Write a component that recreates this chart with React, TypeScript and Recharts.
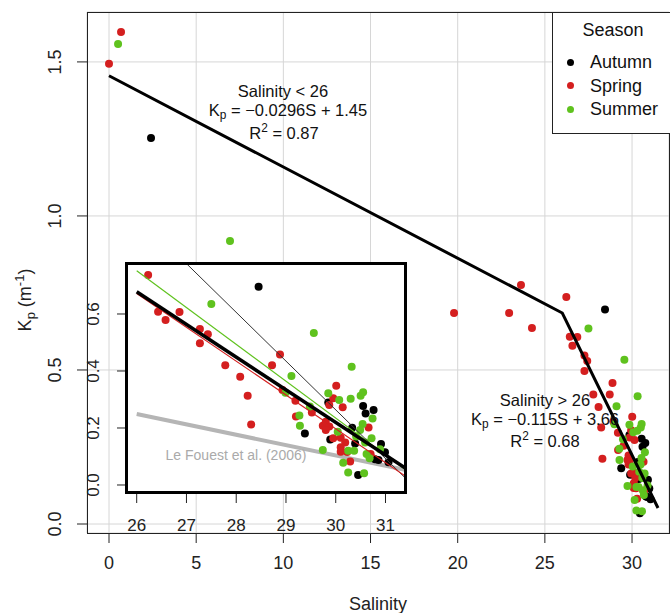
import React from 'react';
import { ScatterChart, Scatter, XAxis, YAxis, CartesianGrid } from 'recharts';

const FONT = '"Liberation Sans", Arial, Helvetica, sans-serif';

// ---- data ----
const seasons = ['Autumn', 'Spring', 'Summer'];
const seasonColors = ['#000000', '#d41f1f', '#5fc21e'];

const autumnSalinity = [2.41, 28.45, 29.85, 29.38, 29.89, 30.33, 30.39, 30.55, 30.60, 30.76, 30.91, 30.99, 30.79, 30.86, 31.06, 30.45];
const autumnKp = [1.253, 0.696, 0.289, 0.181, 0.160, 0.201, 0.146, 0.277, 0.251, 0.263, 0.144, 0.115, 0.090, 0.088, 0.080, 0.035];

const springSalinity = [0, 0.69, 19.79, 22.95, 23.63, 24.26, 26.23, 26.43, 26.58, 26.86, 27.27, 27.43, 27.27, 27.78, 28.08, 28.23, 28.30, 28.88, 28.72, 28.93, 29.19, 29.20, 29.52, 29.74, 29.80, 29.87, 29.80, 29.95, 30.01, 29.87, 30.14, 29.95, 30.10, 30.19, 30.10, 30.23, 30.10, 30.29, 30.66, 30.70];
const springKp = [1.494, 1.597, 0.685, 0.685, 0.776, 0.636, 0.737, 0.608, 0.579, 0.607, 0.547, 0.529, 0.497, 0.420, 0.380, 0.313, 0.212, 0.458, 0.420, 0.333, 0.296, 0.240, 0.254, 0.208, 0.222, 0.205, 0.193, 0.304, 0.348, 0.281, 0.273, 0.164, 0.166, 0.149, 0.132, 0.116, 0.117, 0.082, 0.202, 0.109];

const summerSalinity = [0.52, 6.94, 27.50, 29.56, 29.11, 30.32, 28.99, 29.27, 29.28, 29.85, 30.07, 30.30, 30.50, 30.55, 30.74, 30.54, 30.04, 30.49, 30.41, 30.72, 30.59, 29.74, 30.25, 30.37, 30.15, 30.25, 30.57, 30.62, 30.68, 29.48, 30.89];
const summerKp = [1.558, 0.919, 0.635, 0.533, 0.382, 0.415, 0.324, 0.244, 0.208, 0.322, 0.298, 0.303, 0.313, 0.325, 0.233, 0.214, 0.187, 0.193, 0.170, 0.164, 0.149, 0.123, 0.120, 0.120, 0.078, 0.044, 0.041, 0.109, 0.094, 0.275, 0.125];

// piecewise regression (main panel)
const mainFitSalinity = [0, 26, 31.49];
const mainFitKp = [1.455, 0.685, 0.052];

// inset regression lines
const fitAllSalinity = [26, 31.39];
const fitAllKp = [0.678, 0.06];
const fitSpringSalinity = [26, 31.39];
const fitSpringKp = [0.672, 0.032];
const fitSummerSalinity = [26, 31.39];
const fitSummerKp = [0.752, 0.055];
const fitAutumnSalinity = [27.01, 31.39];
const fitAutumnKp = [0.775, 0.026];
const leFouestSalinity = [26, 31.39];
const leFouestKp = [0.249, 0.053];

const mainXTicks = [0, 5, 10, 15, 20, 25, 30];
const mainYTicks = [0, 0.5, 1.0, 1.5];
const insetXTicks = [26, 27, 28, 29, 30, 31];
const insetYTicks = [0, 0.2, 0.4, 0.6];

const MAIN_X_DOMAIN: [number, number] = [-1.262, 32.12];
const MAIN_Y_DOMAIN: [number, number] = [-0.0292, 1.662];
const INSET_X_DOMAIN: [number, number] = [25.805, 31.392];
const INSET_Y_DOMAIN: [number, number] = [-0.0246, 0.7754];

// ---- helpers ----
const toPoints = (xs: number[], ys: number[]) => xs.map((x, i) => ({ x, y: ys[i] }));

const seasonData = [
  toPoints(autumnSalinity, autumnKp),
  toPoints(springSalinity, springKp),
  toPoints(summerSalinity, summerKp),
];

const insetSeasonData = seasonData.map((pts) =>
  pts.filter(
    (p) => p.x >= INSET_X_DOMAIN[0] && p.x <= INSET_X_DOMAIN[1] && p.y >= INSET_Y_DOMAIN[0] && p.y <= INSET_Y_DOMAIN[1]
  )
);

const makeDot = (color: string, r: number) => (props: any) =>
  props.cx == null ? <g /> : <circle cx={props.cx} cy={props.cy} r={r} fill={color} stroke="none" />;
const NoShape = () => <g />;

const mainXTick = (p: any) => (
  <text x={p.x} y={p.y + 20} textAnchor="middle" dominantBaseline="central" fontSize={18} fill="#222" fontFamily={FONT}>
    {p.payload.value}
  </text>
);
const mainYTick = (p: any) => {
  const cx = p.x - 22;
  return (
    <text x={cx} y={p.y} transform={`rotate(-90, ${cx}, ${p.y})`} textAnchor="middle" dominantBaseline="central" fontSize={18} fill="#222" fontFamily={FONT}>
      {Number(p.payload.value).toFixed(1)}
    </text>
  );
};
const insetXTick = (p: any) => (
  <text x={p.x} y={p.y + 22} textAnchor="middle" dominantBaseline="central" fontSize={17} fill="#222" fontFamily={FONT}>
    {p.payload.value}
  </text>
);
const insetYTick = (p: any) => {
  const cx = p.x - 23;
  return (
    <text x={cx} y={p.y} transform={`rotate(-90, ${cx}, ${p.y})`} textAnchor="middle" dominantBaseline="central" fontSize={17} fill="#222" fontFamily={FONT}>
      {Number(p.payload.value).toFixed(1)}
    </text>
  );
};

const subStyle: React.CSSProperties = { fontSize: '0.72em', verticalAlign: '-0.3em', lineHeight: 0 };
const supStyle: React.CSSProperties = { fontSize: '0.72em', verticalAlign: '0.55em', lineHeight: 0 };

const Label = ({ x, y, size, color = '#111', children }: any) => (
  <div
    style={{
      position: 'absolute',
      left: x,
      top: y,
      transform: 'translate(-50%, -50%)',
      fontSize: size,
      lineHeight: 1,
      whiteSpace: 'nowrap',
      color,
      fontFamily: FONT,
    }}
  >
    {children}
  </div>
);

export default function App() {
  return (
    <div style={{ position: 'absolute', left: 0, top: 0, width: 670, height: 613, background: '#fff', overflow: 'hidden', fontFamily: FONT }}>
      {/* main chart */}
      <div style={{ position: 'absolute', left: 0, top: 0 }}>
        <ScatterChart width={670} height={613} margin={{ top: 12, right: 1, bottom: 0, left: 0 }}>
          <CartesianGrid stroke="#d6d6d6" strokeWidth={1} />
          <XAxis
            type="number"
            dataKey="x"
            domain={MAIN_X_DOMAIN}
            allowDataOverflow
            ticks={mainXTicks}
            interval={0}
            height={80}
            axisLine={false}
            tickSize={10}
            tickMargin={0}
            tickLine={{ stroke: '#222' }}
            tick={mainXTick}
          />
          <YAxis
            type="number"
            dataKey="y"
            domain={MAIN_Y_DOMAIN}
            allowDataOverflow
            ticks={mainYTicks}
            interval={0}
            width={87}
            axisLine={false}
            tickSize={10}
            tickMargin={0}
            tickLine={{ stroke: '#222' }}
            tick={mainYTick}
          />
          {seasons.map((s, i) => (
            <Scatter key={s} name={s} data={seasonData[i]} shape={makeDot(seasonColors[i], 4)} isAnimationActive={false} />
          ))}
          <Scatter
            data={toPoints(mainFitSalinity, mainFitKp)}
            line={{ stroke: '#000', strokeWidth: 3 }}
            shape={NoShape}
            isAnimationActive={false}
          />
        </ScatterChart>
      </div>

      {/* main plot box */}
      <div style={{ position: 'absolute', left: 87, top: 12, width: 583, height: 522, border: '1px solid #222', boxSizing: 'border-box', pointerEvents: 'none' }} />

      {/* inset white background */}
      <div style={{ position: 'absolute', left: 125, top: 262, width: 282, height: 231, background: '#fff' }} />

      {/* inset chart */}
      <div style={{ position: 'absolute', left: 0, top: 0 }}>
        <ScatterChart width={670} height={613} margin={{ top: 264, right: 265, bottom: 0, left: 0 }}>
          <XAxis
            type="number"
            dataKey="x"
            domain={INSET_X_DOMAIN}
            allowDataOverflow
            ticks={insetXTicks}
            interval={0}
            height={121}
            axisLine={false}
            tickSize={11}
            tickMargin={0}
            tickLine={{ stroke: '#222' }}
            tick={insetXTick}
          />
          <YAxis
            type="number"
            dataKey="y"
            domain={INSET_Y_DOMAIN}
            allowDataOverflow
            ticks={insetYTicks}
            interval={0}
            width={127}
            axisLine={false}
            tickSize={10}
            tickMargin={0}
            tickLine={{ stroke: '#222' }}
            tick={insetYTick}
          />
          <Scatter
            data={toPoints(leFouestSalinity, leFouestKp)}
            line={{ stroke: '#b5b5b5', strokeWidth: 4 }}
            shape={NoShape}
            isAnimationActive={false}
          />
          {seasons.map((s, i) => (
            <Scatter key={s} name={s} data={insetSeasonData[i]} shape={makeDot(seasonColors[i], 4)} isAnimationActive={false} />
          ))}
          <Scatter data={toPoints(fitAutumnSalinity, fitAutumnKp)} line={{ stroke: '#333', strokeWidth: 1 }} shape={NoShape} isAnimationActive={false} />
          <Scatter data={toPoints(fitSummerSalinity, fitSummerKp)} line={{ stroke: seasonColors[2], strokeWidth: 1.2 }} shape={NoShape} isAnimationActive={false} />
          <Scatter data={toPoints(fitSpringSalinity, fitSpringKp)} line={{ stroke: seasonColors[1], strokeWidth: 1.2 }} shape={NoShape} isAnimationActive={false} />
          <Scatter data={toPoints(fitAllSalinity, fitAllKp)} line={{ stroke: '#000', strokeWidth: 3.5 }} shape={NoShape} isAnimationActive={false} />
        </ScatterChart>
      </div>

      {/* inset border */}
      <div style={{ position: 'absolute', left: 125, top: 262, width: 282, height: 232, border: '3px solid #000', boxSizing: 'border-box', pointerEvents: 'none' }} />

      <Label x={236} y={455} size={14} color="#aaaaaa">Le Fouest et al. (2006)</Label>

      {/* legend */}
      <div style={{ position: 'absolute', left: 552, top: 12, width: 130, height: 122, border: '1px solid #222', boxSizing: 'border-box', background: '#fff' }} />
      <Label x={613} y={30} size={18} color="#111">Season</Label>
      {seasons.map((s, i) => (
        <React.Fragment key={s}>
          <div style={{ position: 'absolute', left: 570 - 3.5, top: 62 + i * 23.5 - 3.5, width: 7, height: 7, borderRadius: '50%', background: seasonColors[i] }} />
          <div style={{ position: 'absolute', left: 590, top: 62 + i * 23.5, transform: 'translateY(-50%)', fontSize: 18, lineHeight: 1, color: '#111', fontFamily: FONT, whiteSpace: 'nowrap' }}>{s}</div>
        </React.Fragment>
      ))}

      {/* annotations */}
      <Label x={283} y={91} size={16.5}>Salinity &lt; 26</Label>
      <Label x={288} y={110} size={16.5}>K<span style={subStyle}>p</span> = −0.0296S + 1.45</Label>
      <Label x={284} y={133} size={16.5}>R<span style={supStyle}>2</span> = 0.87</Label>

      <Label x={545} y={400} size={16.5}>Salinity &gt; 26</Label>
      <Label x={545} y={419} size={16.5}>K<span style={subStyle}>p</span> = −0.115S + 3.66</Label>
      <Label x={545} y={441} size={16.5}>R<span style={supStyle}>2</span> = 0.68</Label>

      {/* axis titles */}
      <Label x={378} y={604} size={18} color="#222">Salinity</Label>
      <div
        style={{
          position: 'absolute',
          left: 25,
          top: 300,
          transform: 'translate(-50%, -50%) rotate(-90deg)',
          fontSize: 18,
          lineHeight: 1,
          whiteSpace: 'nowrap',
          color: '#222',
          fontFamily: FONT,
        }}
      >
        K<span style={subStyle}>p</span> (m<span style={supStyle}>-1</span>)
      </div>
    </div>
  );
}
